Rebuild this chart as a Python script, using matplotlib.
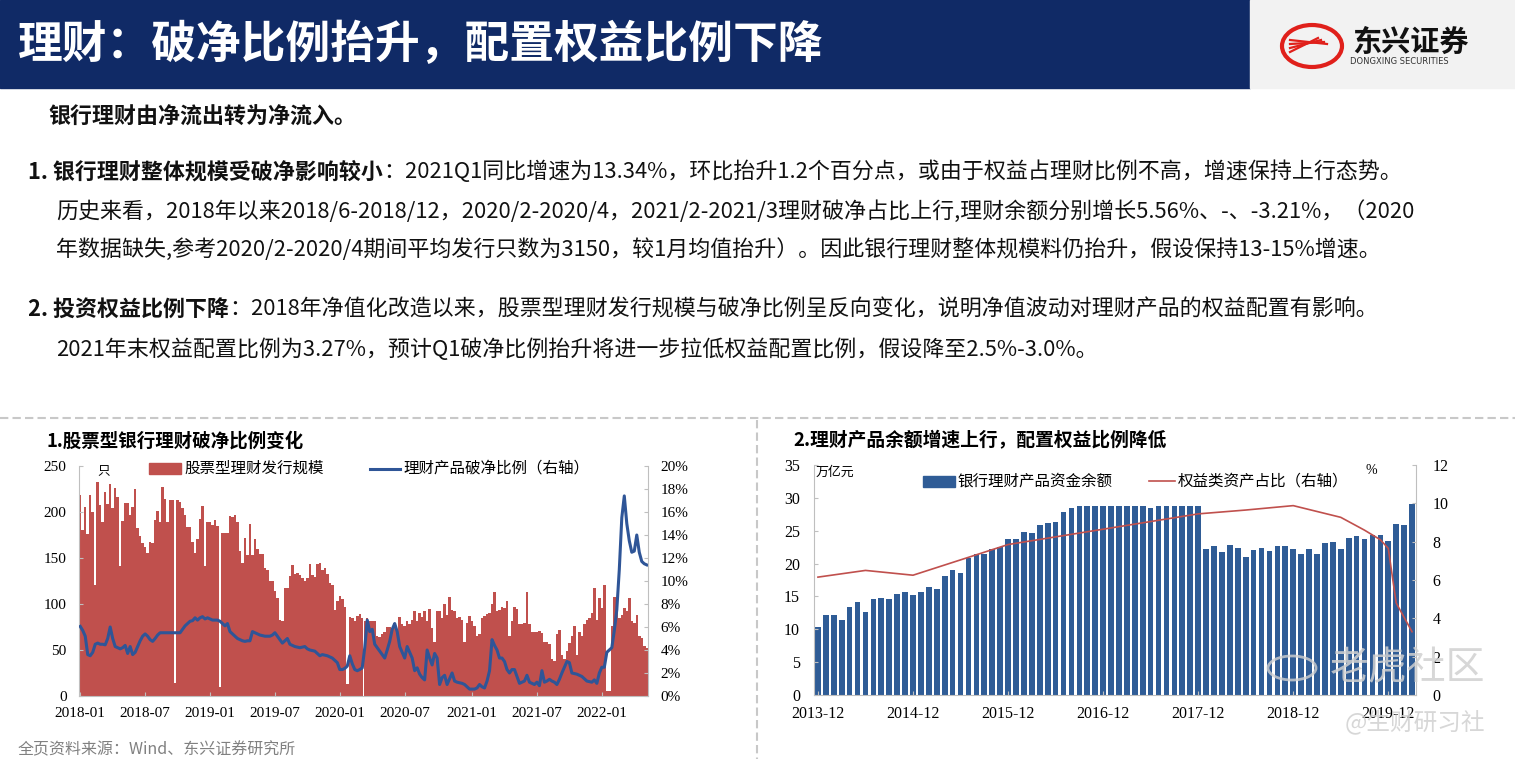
import matplotlib
matplotlib.use('Agg')
import matplotlib.pyplot as plt
import matplotlib.patches as mpatches
from matplotlib.lines import Line2D
from matplotlib.ticker import FuncFormatter
import numpy as np

# ---- data: chart 1 (weekly, 2018-01 .. 2022-05) ----
stock_wm_count = [
    219, 180, 205, 176, 219, 200, 121, 233, 208, 189,
    222, 209, 230, 204, 226, 216, 141, 190, 210, 210,
    197, 205, 225, 183, 174, 166, 162, 155, 167, 166,
    191, 201, 189, 227, 214, 189, 213, 213, 14, 213,
    211, 204, 197, 184, 184, 167, 155, 171, 192, 206,
    141, 189, 189, 186, 191, 185, 10, 177, 177, 177,
    196, 195, 197, 189, 158, 145, 172, 153, 187, 153,
    171, 160, 154, 154, 139, 137, 125, 125, 114, 107,
    83, 82, 117, 117, 130, 142, 133, 134, 131, 128,
    125, 128, 143, 132, 129, 144, 145, 137, 139, 133,
    123, 121, 94, 103, 109, 105, 97, 13, 86, 85,
    82, 87, 89, 85, 81, 85, 81, 81, 81, 65,
    64, 67, 70, 75, 75, 68, 79, 70, 86, 78,
    76, 82, 78, 83, 92, 82, 90, 86, 92, 82,
    95, 74, 59, 92, 92, 85, 100, 88, 108, 94,
    92, 85, 86, 83, 59, 79, 87, 82, 76, 65,
    67, 85, 87, 89, 90, 100, 113, 92, 93, 97,
    96, 103, 65, 81, 97, 95, 78, 78, 79, 113,
    78, 70, 70, 70, 71, 68, 59, 59, 56, 40,
    38, 67, 72, 45, 40, 49, 58, 65, 76, 45,
    70, 65, 78, 83, 85, 90, 117, 83, 106, 96,
    121, 5, 5, 76, 108, 103, 85, 88, 96, 92,
    106, 81, 79, 88, 65, 63, 54, 52,
]
below_nav_ratio = [
    6.05, 5.7, 5.2, 3.6, 3.5, 3.8, 4.5, 4.6, 4.5, 4.5,
    4.45, 5.0, 6.0, 5.0, 4.3, 4.2, 4.1, 4.2, 4.4, 3.7,
    4.3, 3.6, 3.8, 4.3, 4.8, 5.2, 5.4, 5.2, 4.9, 4.75,
    5.0, 5.3, 5.5, 5.5, 5.5, 5.5, 5.5, 5.5, 5.5, 5.5,
    5.5, 5.8, 6.1, 6.3, 6.5, 6.55, 6.8, 6.6, 6.8, 6.9,
    6.7, 6.8, 6.7, 6.6, 6.6, 6.6, 6.5, 6.3, 6.1, 6.3,
    5.6, 5.4, 5.2, 5.0, 4.9, 4.8, 4.75, 4.8, 4.8, 5.6,
    5.5, 5.4, 5.3, 5.25, 5.2, 5.2, 5.2, 5.3, 5.5, 5.2,
    4.9, 4.6, 4.8, 5.0, 4.5, 4.4, 4.3, 4.25, 4.2, 4.25,
    4.3, 4.1, 4.0, 3.95, 3.9, 3.7, 3.5, 3.6, 3.55, 3.5,
    3.4, 3.3, 3.1, 2.9, 2.3, 2.3, 2.4, 2.6, 3.5, 2.8,
    2.3, 2.2, 2.3, 2.45, 4.2, 6.6, 5.6, 5.8, 4.5, 4.2,
    3.9, 3.6, 3.3, 4.0, 4.75, 5.8, 6.3, 5.6, 4.3, 3.8,
    3.3, 4.3, 3.8, 3.3, 2.2, 2.45, 1.9, 1.6, 1.4, 4.0,
    3.3, 2.7, 3.7, 3.3, 1.0, 1.6, 1.8, 1.0, 1.5, 2.0,
    1.3, 1.2, 1.15, 1.1, 1.0, 0.8, 0.6, 0.6, 0.6, 0.7,
    1.0, 0.8, 0.7, 1.3, 2.2, 4.9, 4.4, 4.0, 3.3, 3.3,
    3.0, 2.3, 2.0, 2.3, 2.3, 1.7, 1.1, 1.2, 1.3, 1.8,
    1.2, 1.1, 1.0, 1.2, 0.9, 2.2, 1.2, 1.3, 1.45, 1.3,
    1.2, 1.0, 1.45, 2.0, 2.5, 3.0, 2.9, 2.0, 1.95, 1.9,
    1.8, 1.7, 1.5, 1.3, 1.25, 1.2, 1.4, 1.1, 2.0, 2.5,
    2.5, 3.8, 4.0, 4.2, 5.7, 7.5, 11.0, 15.5, 17.4, 15.0,
    13.5, 12.5, 12.6, 14.0, 12.5, 11.7, 11.5, 11.4,
]
week_ticks = [0, 26, 52, 78, 104, 130, 157, 183, 209]
week_labels = ['2018-01', '2018-07', '2019-01', '2019-07', '2020-01',
               '2020-07', '2021-01', '2021-07', '2022-01']

# ---- data: chart 2 (monthly, 2013-12 .. 2020-03) ----
wm_balance = [
    10.3, 12.1, 12.1, 11.4, 13.4, 14.1, 12.6, 14.6, 14.8, 14.6,
    15.4, 15.6, 15.2, 15.7, 16.4, 16.1, 18.1, 19.0, 18.6, 20.8,
    21.5, 21.5, 22.2, 22.5, 23.7, 23.7, 24.8, 24.6, 25.8, 26.2,
    26.4, 27.8, 28.4, 28.7, 28.8, 28.8, 28.8, 28.8, 28.8, 28.8,
    28.8, 28.8, 28.5, 28.8, 28.8, 28.8, 28.8, 28.8, 28.8,
    22.2, 22.7, 21.7, 22.9, 22.4, 21.0, 22.0, 22.4, 21.9, 22.6,
    22.7, 22.2, 21.5, 22.2, 21.5, 23.1, 23.3, 22.2, 23.9, 24.2,
    23.7, 24.4, 24.4, 23.5, 26.0, 25.8, 29.1,
]
equity_idx = [0, 6, 12, 18, 24, 30, 36, 42, 48, 54, 60, 66, 69, 71, 72, 73, 75]
equity_share = [6.15, 6.5, 6.25, 7.05, 7.85, 8.25, 8.65, 9.05, 9.45, 9.65,
                9.88, 9.27, 8.6, 8.1, 7.65, 4.8, 3.3]
month_ticks = [0, 12, 24, 36, 48, 60, 72]
month_labels = ['2013-12', '2014-12', '2015-12', '2016-12', '2017-12',
                '2018-12', '2019-12']

CJK = ['Noto Sans CJK SC', 'DejaVu Sans']
SERIF = 'Liberation Serif'
plt.rcParams['font.family'] = CJK

W, H = 1515, 759
fig = plt.figure(figsize=(W / 100, H / 100), dpi=100)
fig.patch.set_facecolor('white')


def fx(x):
    return x / W


def fy(y):
    return 1 - y / H


# header band + logo box
fig.add_artist(mpatches.Rectangle((0, fy(88)), fx(1250), 88 / H, transform=fig.transFigure,
                                  color='#102A66', zorder=1))
fig.add_artist(mpatches.Rectangle((fx(1250), fy(88)), fx(265), 88 / H, transform=fig.transFigure,
                                  color='#F2F2F2', zorder=1))
fig.text(fx(18), fy(45), '理财：破净比例抬升，配置权益比例下降', color='white',
         fontsize=32.2, fontweight='bold', va='center', zorder=2)
fig.add_artist(mpatches.Ellipse((fx(1312), fy(46)), fx(60), 42 / H, transform=fig.transFigure,
                                fill=False, ec='#E0201B', lw=3, zorder=2))
for k in range(4):
    fig.add_artist(Line2D([fx(1290), fx(1318 + 3 * k)], [fy(52 - 4 * k), fy(38 + 2 * k)],
                          transform=fig.transFigure, color='#E0201B', lw=1.6, zorder=2))
fig.text(fx(1352), fy(42), '东兴证券', fontsize=21, fontweight='bold', va='center',
         color='#111111', zorder=2)
fig.text(fx(1350), fy(61), 'DONGXING SECURITIES', fontsize=6, va='center',
         family='DejaVu Sans', color='#333333', zorder=2)

# body text
renderer = fig.canvas.get_renderer()


def rich(x, y, parts, size=15.8):
    for s, bold in parts:
        t = fig.text(fx(x), fy(y), s, fontsize=size, va='center',
                     fontweight='bold' if bold else 'normal', color='#111111')
        x += t.get_window_extent(renderer=renderer).width


rich(48, 117, [('银行理财由净流出转为净流入。', True)])
rich(28, 172, [('1. 银行理财整体规模受破净影响较小', True),
               ('：2021Q1同比增速为13.34%，环比抬升1.2个百分点，或由于权益占理财比例不高，增速保持上行态势。', False)])
rich(56, 212, [('历史来看，2018年以来2018/6-2018/12，2020/2-2020/4，2021/2-2021/3理财破净占比上行,理财余额分别增长5.56%、-、-3.21%，（2020', False)])
rich(56, 250, [('年数据缺失,参考2020/2-2020/4期间平均发行只数为3150，较1月均值抬升）。因此银行理财整体规模料仍抬升，假设保持13-15%增速。', False)])
rich(28, 310, [('2. 投资权益比例下降', True),
               ('：2018年净值化改造以来，股票型理财发行规模与破净比例呈反向变化，说明净值波动对理财产品的权益配置有影响。', False)])
rich(56, 350, [('2021年末权益配置比例为3.27%，预计Q1破净比例抬升将进一步拉低权益配置比例，假设降至2.5%-3.0%。', False)])

# dashed separators
fig.add_artist(Line2D([0, 1], [fy(418), fy(418)], transform=fig.transFigure,
                      color='#C8C8C8', lw=1.5, ls=(0, (4, 2))))
fig.add_artist(Line2D([fx(757), fx(757)], [fy(420), 0], transform=fig.transFigure,
                      color='#C8C8C8', lw=1.5, ls=(0, (4, 2))))

fig.text(fx(47), fy(441), '1.股票型银行理财破净比例变化', fontsize=13.3, fontweight='bold', va='center')
fig.text(fx(793), fy(441), '2.理财产品余额增速上行，配置权益比例降低', fontsize=13.5,
         fontweight='bold', va='center')
fig.text(fx(18), fy(750), '全页资料来源：Wind、东兴证券研究所', fontsize=11.5, va='center', color='#808080')

GRID = '#BFBFBF'


def style(a, side):
    for s in a.spines.values():
        s.set_visible(False)
    for s in side:
        a.spines[s].set_visible(True)
        a.spines[s].set_color(GRID)
    a.tick_params(labelfontfamily=SERIF, labelsize=11, length=3, color=GRID, direction='in')


# ---- chart 1 ----
red = '#C0504D'
blue_line = '#2F5597'
ax = fig.add_axes([fx(79), fy(696), fx(569), 230 / H])
xw = np.arange(len(stock_wm_count))
ax.bar(xw, stock_wm_count, width=1.0, color=red, linewidth=0)
ax.set_xlim(-0.5, len(stock_wm_count) - 0.5)
ax.set_ylim(0, 250)
ax.set_yticks(range(0, 251, 50))
ax.set_xticks(week_ticks)
ax.set_xticklabels(week_labels)
style(ax, ['left', 'bottom'])
ax.tick_params(axis='y', pad=9)
ax.tick_params(axis='x', pad=8)
ax2 = ax.twinx()
ax2.plot(xw, below_nav_ratio, color=blue_line, lw=2.2)
ax2.set_ylim(0, 20)
ax2.set_yticks(range(0, 21, 2))
ax2.yaxis.set_major_formatter(FuncFormatter(lambda v, p: f'{v:.0f}%'))
style(ax2, ['right'])
ax2.tick_params(axis='y', pad=9)

fig.text(fx(97), fy(472), '只', fontsize=9, va='center')
fig.add_artist(mpatches.Rectangle((fx(149), fy(474)), fx(32), 11 / H, transform=fig.transFigure,
                                  color=red))
fig.text(fx(184), fy(468), '股票型理财发行规模', fontsize=11.2, va='center')
fig.add_artist(Line2D([fx(370), fx(400)], [fy(469), fy(469)], transform=fig.transFigure,
                      color=blue_line, lw=2.2))
fig.text(fx(403), fy(468), '理财产品破净比例（右轴）', fontsize=11.2, va='center')

# ---- chart 2 ----
blue_bar = '#2F5C96'
bx = fig.add_axes([fx(814), fy(695), fx(602), 230 / H])
xm = np.arange(len(wm_balance))
bx.bar(xm, wm_balance, width=0.72, color=blue_bar, linewidth=0)
bx.set_xlim(-0.5, len(wm_balance) - 0.5)
bx.set_ylim(0, 35)
bx.set_yticks(range(0, 36, 5))
bx.set_xticks(month_ticks)
bx.set_xticklabels(month_labels)
style(bx, ['left', 'bottom'])
bx.tick_params(axis='y', pad=10, labelsize=11.5)
bx.tick_params(axis='x', pad=8, labelsize=11.5)
bx2 = bx.twinx()
bx2.plot(equity_idx, equity_share, color=red, lw=1.2)
bx2.set_ylim(0, 12)
bx2.set_yticks(range(0, 13, 2))
style(bx2, ['right'])
bx2.tick_params(axis='y', pad=12, labelsize=11.5)

fig.text(fx(816), fy(472), '万亿元', fontsize=9.3, va='center')
fig.text(fx(1365), fy(470), '%', fontsize=10, va='center', family=SERIF)
fig.add_artist(mpatches.Rectangle((fx(923), fy(487)), fx(32), 11 / H, transform=fig.transFigure,
                                  color=blue_bar))
fig.text(fx(957), fy(481), '银行理财产品资金余额', fontsize=11.2, va='center')
fig.add_artist(Line2D([fx(1149), fx(1175)], [fy(481), fy(481)], transform=fig.transFigure,
                      color=red, lw=1.2))
fig.text(fx(1178), fy(481), '权益类资产占比（右轴）', fontsize=11.2, va='center')

# watermark (semi-transparent, as on the source image)
fig.add_artist(mpatches.Circle((fx(1292), fy(668)), 24 / W, transform=fig.transFigure,
                               fill=False, ec='#D0D0D0', lw=2, alpha=0.8, zorder=5))
fig.text(fx(1330), fy(668), '老虎社区', fontsize=28, va='center', color='#D0D0D0',
         alpha=0.85, zorder=5)
fig.text(fx(1345), fy(722), '@生财研习社', fontsize=17, va='center', color='#D0D0D0',
         alpha=0.85, zorder=5)

fig.savefig('out.png', dpi=100)
